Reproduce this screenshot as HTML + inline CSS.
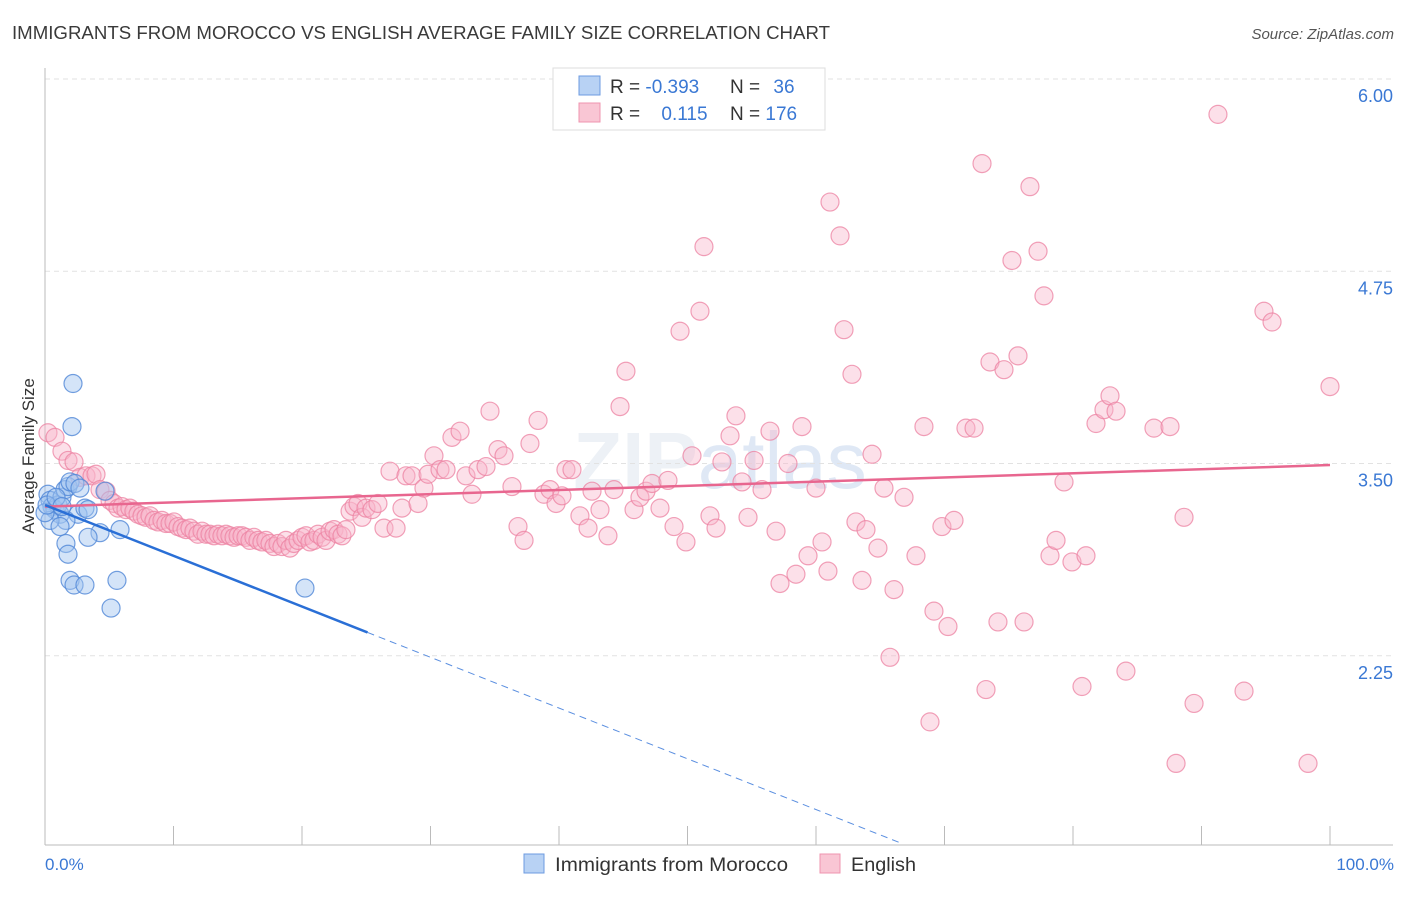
<!DOCTYPE html>
<html><head><meta charset="utf-8"><style>
body{margin:0;background:#fff;font-family:"Liberation Sans",sans-serif;}
svg text{font-family:"Liberation Sans",sans-serif;}
</style></head><body>
<svg id="chart" width="1406" height="892" xmlns="http://www.w3.org/2000/svg">
<text x="12" y="39" font-size="18" fill="#3a3a3a" textLength="818" lengthAdjust="spacingAndGlyphs">IMMIGRANTS FROM MOROCCO VS ENGLISH AVERAGE FAMILY SIZE CORRELATION CHART</text>
<text x="1394" y="39" font-size="15" fill="#555" text-anchor="end" font-style="italic">Source: ZipAtlas.com</text>
<text x="720" y="488" font-size="80" fill="#edf1f6" text-anchor="middle" font-weight="bold">ZIP<tspan fill="#dfe8f5" font-weight="normal">atlas</tspan></text>
<g id="grid"></g>
<g id="axes"></g>
<g id="pink"></g>
<g id="blue"></g>
<g id="trends"></g>
<text transform="translate(34,456) rotate(-90)" font-size="17" fill="#333" text-anchor="middle">Average Family Size</text>
<text x="45" y="870" font-size="17" fill="#3a78d4">0.0%</text>
<text x="1394" y="870" font-size="17" fill="#3a78d4" text-anchor="end">100.0%</text>
<g>
<rect x="553" y="68" width="272" height="62" fill="#fff" stroke="#ddd"/>
<rect x="579" y="76" width="21" height="19" fill="#b8d2f4" stroke="#6d9be0"/>
<rect x="579" y="103" width="21" height="19" fill="#f9c6d4" stroke="#ef94af"/>
<text x="610" y="93" font-size="19" fill="#333">R = <tspan fill="#3a78d4">-0.393</tspan></text>
<text x="730" y="93" font-size="19" fill="#333">N = <tspan fill="#3a78d4" dx="8">36</tspan></text>
<text x="610" y="120" font-size="19" fill="#333">R = <tspan fill="#3a78d4" dx="16">0.115</tspan></text>
<text x="730" y="120" font-size="19" fill="#333">N = <tspan fill="#3a78d4">176</tspan></text>
</g>
<g>
<rect x="524" y="854" width="20" height="19" fill="#b8d2f4" stroke="#6d9be0"/>
<text x="555" y="871" font-size="19" fill="#333" textLength="233" lengthAdjust="spacingAndGlyphs">Immigrants from Morocco</text>
<rect x="820" y="854" width="20" height="19" fill="#f9c6d4" stroke="#ef94af"/>
<text x="851" y="871" font-size="19" fill="#333" textLength="65" lengthAdjust="spacingAndGlyphs">English</text>
</g>
</svg>
<script>
const yTicks=[2.25,3.50,4.75,6.00];
const yTickLabels=["2.25","3.50","4.75","6.00"];
const xTicks=[0,10,20,30,40,50,60,70,80,90,100];
const pinkX=[0.23,0.78,1.32,1.79,2.26,2.72,3.19,3.66,3.97,4.28,4.75,5.06,5.37,5.68,5.99,6.30,6.61,6.92,7.24,7.55,7.86,8.17,8.48,8.79,9.10,9.41,9.73,10.04,10.35,10.66,10.97,11.28,11.59,11.90,12.22,12.53,12.84,13.15,13.46,13.77,14.08,14.39,14.71,15.02,15.33,15.64,15.95,16.26,16.57,16.88,17.19,17.51,17.82,18.13,18.44,18.75,19.06,19.37,19.69,20.00,20.31,20.62,20.93,21.24,21.56,21.87,22.18,22.49,22.80,23.11,23.42,23.74,24.05,24.36,24.67,24.98,25.45,25.91,26.38,26.85,27.32,27.78,28.09,28.56,29.03,29.49,29.81,30.27,30.74,31.21,31.67,32.30,32.76,33.23,33.70,34.32,34.63,35.25,35.72,36.34,36.81,37.28,37.74,38.37,38.83,39.30,39.77,40.23,40.54,41.01,41.63,42.26,42.57,43.19,43.81,44.28,44.75,45.21,45.84,46.30,46.77,47.24,47.86,48.48,48.95,49.42,49.88,50.35,50.97,51.28,51.75,52.22,52.68,53.31,53.77,54.24,54.71,55.18,55.80,56.42,56.89,57.20,57.82,58.44,58.91,59.38,60.00,60.47,60.93,61.09,61.87,62.18,62.80,63.11,63.58,63.89,64.36,64.82,65.29,65.76,66.07,66.85,67.78,68.40,68.87,69.18,69.80,70.27,70.74,71.67,72.30,72.92,73.23,73.54,74.16,74.63,75.25,75.72,76.19,76.65,77.28,77.74,78.21,78.68,79.30,79.92,80.70,81.01,81.79,82.41,82.88,83.35,84.12,86.30,87.55,88.02,88.64,89.42,91.28,93.31,94.86,95.49,98.29,100.0];
const pinkY=[3.70,3.67,3.58,3.52,3.51,3.41,3.42,3.42,3.43,3.33,3.32,3.26,3.24,3.21,3.22,3.20,3.21,3.19,3.17,3.16,3.15,3.16,3.13,3.12,3.13,3.11,3.11,3.12,3.09,3.08,3.07,3.08,3.06,3.04,3.06,3.04,3.04,3.03,3.04,3.03,3.04,3.03,3.02,3.03,3.03,3.02,3.00,3.02,3.00,2.99,3.00,2.98,2.96,2.98,2.96,3.00,2.95,2.98,3.00,3.02,3.03,2.99,3.00,3.04,3.02,3.00,3.06,3.07,3.04,3.03,3.07,3.19,3.22,3.24,3.15,3.21,3.20,3.24,3.08,3.45,3.08,3.21,3.42,3.42,3.24,3.34,3.43,3.55,3.46,3.46,3.67,3.71,3.42,3.30,3.46,3.48,3.84,3.59,3.55,3.35,3.09,3.00,3.63,3.78,3.30,3.33,3.24,3.29,3.46,3.46,3.16,3.08,3.32,3.20,3.03,3.33,3.87,4.10,3.20,3.28,3.32,3.37,3.21,3.39,3.09,4.36,2.99,3.55,4.49,4.91,3.16,3.08,3.51,3.68,3.81,3.38,3.15,3.52,3.33,3.71,3.06,2.72,3.50,2.78,3.74,2.90,3.34,2.99,2.80,5.20,4.98,4.37,4.08,3.12,2.74,3.07,3.56,2.95,3.34,2.24,2.68,3.28,2.90,3.74,1.82,2.54,3.09,2.44,3.13,3.73,3.73,5.45,2.03,4.16,2.47,4.11,4.82,4.20,2.47,5.30,4.88,4.59,2.90,3.00,3.38,2.86,2.05,2.90,3.76,3.85,3.94,3.84,2.15,3.73,3.74,1.55,3.15,1.94,5.77,2.02,4.49,4.42,1.55,4.00];
const blueX=[2.18,2.10,0.23,0.39,0.54,0.78,1.01,1.17,1.32,1.56,1.79,1.95,2.33,2.72,2.57,3.11,3.35,1.63,0.39,1.17,1.63,1.79,1.95,2.26,3.11,5.60,5.14,4.28,3.35,5.84,4.67,20.23,0.0,0.16,0.86,1.32];
const blueY=[4.02,3.74,3.30,3.26,3.22,3.20,3.23,3.17,3.28,3.33,3.35,3.38,3.37,3.34,3.17,3.21,3.20,3.13,3.13,3.09,2.98,2.91,2.74,2.71,2.71,2.74,2.56,3.05,3.02,3.07,3.32,2.69,3.18,3.23,3.28,3.22];
const blueTrend=[3.23,-0.033]; // intercept, slope per %
const blueSolidEnd=25.1, blueDashEnd=66.5;
const pinkTrend=[3.22,0.0027];

const NS="http://www.w3.org/2000/svg";
const X0=45,X1=1330,YT=79,PX=153.8;
function xs(p){return X0+(X1-X0)*p/100;}
function ys(v){return YT+(6-v)*PX;}
function mk(tag,attrs,parent){const e=document.createElementNS(NS,tag);for(const k in attrs)e.setAttribute(k,attrs[k]);parent.appendChild(e);return e;}
const grid=document.getElementById('grid');
yTicks.forEach((t,i)=>{
 const l=mk('line',{x1:X0,x2:1393,y1:ys(t),y2:ys(t),stroke:'#e2e2e2','stroke-dasharray':'5,4'},grid);
 
 
 const tx=mk('text',{x:1393,y:ys(t)+23,'font-size':18,fill:'#3a78d4','text-anchor':'end'},grid);
 tx.textContent=yTickLabels[i];
 
 
});
const axes=document.getElementById('axes');
const ya=mk('line',{x1:X0,x2:X0,y1:68,y2:845,stroke:'#bbb'},axes);


const xa=mk('line',{x1:X0,x2:1393,y1:845,y2:845,stroke:'#bbb'},axes);


xTicks.forEach(t=>{
 const l=mk('line',{x1:xs(t),x2:xs(t),y1:826,y2:845,stroke:'#bbb'},axes);
 
 
});
const pg=document.getElementById('pink');
pinkX.forEach((p,i)=>{
 const c=mk('circle',{cx:xs(p),cy:ys(pinkY[i]),r:9,fill:'rgba(248,182,202,0.42)',stroke:'rgba(236,130,162,0.75)','stroke-width':1.2},pg);
 
 
});
const bg=document.getElementById('blue');
blueX.forEach((p,i)=>{
 const c=mk('circle',{cx:xs(p),cy:ys(blueY[i]),r:9,fill:'rgba(160,196,240,0.45)',stroke:'rgba(80,135,215,0.8)','stroke-width':1.2},bg);
 
 
});
const tg=document.getElementById('trends');
function bv(p){return blueTrend[0]+blueTrend[1]*p;}
function pv(p){return pinkTrend[0]+pinkTrend[1]*p;}
const pt=mk('line',{x1:xs(0),y1:ys(pv(0)),x2:xs(100),y2:ys(pv(100)),stroke:'#e8668f','stroke-width':2.5},tg);


const bt=mk('line',{x1:xs(0),y1:ys(bv(0)),x2:xs(blueSolidEnd),y2:ys(bv(blueSolidEnd)),stroke:'#2a6fd6','stroke-width':2.5},tg);


const bd=mk('line',{x1:xs(blueSolidEnd),y1:ys(bv(blueSolidEnd)),x2:xs(blueDashEnd),y2:ys(bv(blueDashEnd)),stroke:'#5b8fe0','stroke-width':1,'stroke-dasharray':'7,5'},tg);


</script>
</body></html>
